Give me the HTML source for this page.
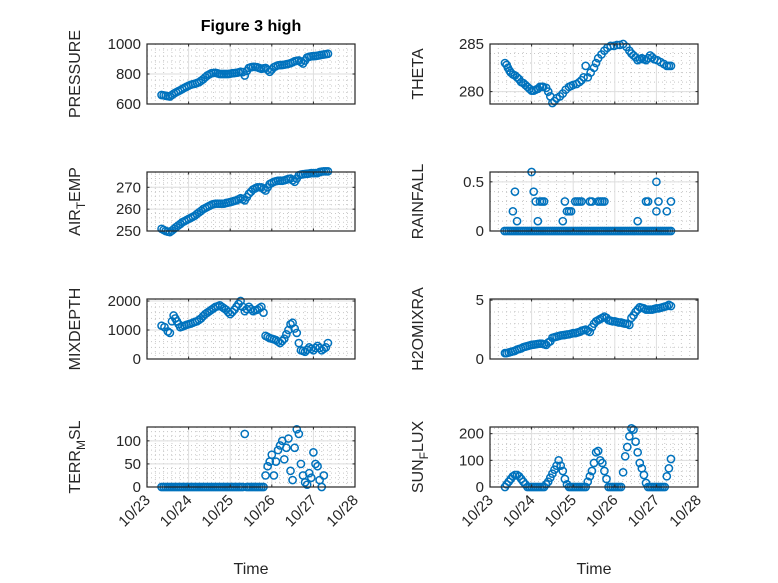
<!DOCTYPE html>
<html><head><meta charset="utf-8"><style>
html,body{margin:0;padding:0;background:#fff;}
svg{display:block;font-family:"Liberation Sans","DejaVu Sans",sans-serif;}
</style></head><body>
<svg id="fig" width="778" height="583" viewBox="0 0 778 583" xmlns="http://www.w3.org/2000/svg">
<rect width="778" height="583" fill="#fff"/>
<text x="251" y="31" text-anchor="middle" font-size="16" font-weight="bold" fill="#000">Figure 3 high</text>
</svg>
<script>
// ---- data (time in days after 10/23 00:00) ----
const xTickLabels = ["10/23","10/24","10/25","10/26","10/27","10/28"];

const presT = [0.35,0.4,0.45,0.5,0.55,0.6,0.65,0.7,0.75,0.8,0.85,0.9,0.95,1.0,1.05,1.1,1.15,1.2,1.25,1.3,1.35,1.4,1.45,1.5,1.55,1.6,1.65,1.7,1.75,1.8,1.85,1.9,1.95,2.0,2.05,2.1,2.15,2.2,2.25,2.3,2.35,2.4,2.45,2.5,2.55,2.6,2.65,2.7,2.75,2.8,2.85,2.9,2.95,3.0,3.05,3.1,3.15,3.2,3.25,3.3,3.35,3.4,3.45,3.5,3.55,3.6,3.65,3.7,3.75,3.8,3.85,3.9,3.95,4.0,4.05,4.1,4.15,4.2,4.25,4.3,4.35];
const presV = [660,658,655,652,650,660,670,678,685,692,700,708,715,722,728,732,735,740,745,755,765,778,790,798,805,807,808,804,800,800,800,800,800,802,805,806,808,811,815,812,790,820,840,845,848,847,845,840,835,838,840,828,815,830,845,852,858,859,860,862,865,868,872,878,885,888,890,880,870,890,910,915,918,919,920,922,925,928,930,932,935];

const airT = presT;
const airV = [251,250.5,250,249.7,249.5,250.2,251,251.8,252.5,253.2,254,254.5,255,255.5,256,256.5,257,257.8,258.5,259.2,260,260.5,261,261.5,262,262.3,262.5,262.5,262.5,262.5,262.5,262.8,263,263.2,263.5,263.8,264,264.5,265,264.5,264,265.5,267,268,269,269.5,270,270,270,269.2,268.5,270,271.5,272,272.5,272.8,273,273,273,273.2,273.5,273.8,274,273.2,272.5,274,275.5,275.8,276,276.1,276.2,276.3,276.5,276.5,276.5,276.5,277,277.2,277.3,277.3,277.3];

const mixT = [0.35,0.42,0.5,0.55,0.6,0.64,0.68,0.72,0.76,0.8,0.85,0.9,0.95,1.0,1.05,1.1,1.15,1.2,1.25,1.3,1.35,1.4,1.45,1.5,1.55,1.6,1.65,1.7,1.75,1.8,1.85,1.9,1.95,2.0,2.05,2.1,2.15,2.2,2.25,2.3,2.35,2.4,2.45,2.5,2.55,2.6,2.65,2.7,2.75,2.8,2.85,2.9,2.95,3.0,3.05,3.1,3.15,3.2,3.25,3.3,3.35,3.4,3.45,3.5,3.55,3.6,3.65,3.7,3.75,3.8,3.85,3.9,3.95,4.0,4.05,4.1,4.15,4.2,4.25,4.3,4.35];
const mixV = [1150,1100,950,900,1300,1500,1400,1300,1200,1100,1120,1150,1180,1200,1220,1250,1280,1300,1350,1400,1480,1550,1600,1650,1700,1750,1800,1820,1850,1800,1750,1700,1620,1550,1620,1700,1800,1900,2000,1800,1650,1720,1800,1720,1650,1680,1700,1750,1800,1600,800,760,720,700,680,650,600,550,620,700,850,1000,1200,1250,1050,900,550,300,280,250,320,400,350,300,380,450,380,300,350,400,550];

const terrT = [0.35,0.4,0.45,0.5,0.55,0.6,0.65,0.7,0.75,0.8,0.85,0.9,0.95,1.0,1.05,1.1,1.15,1.2,1.25,1.3,1.35,1.4,1.45,1.5,1.55,1.6,1.65,1.7,1.75,1.8,1.85,1.9,1.95,2.0,2.05,2.1,2.15,2.2,2.25,2.3,2.35,2.4,2.45,2.5,2.55,2.6,2.65,2.7,2.75,2.8,2.85,2.9,2.95,3.0,3.05,3.1,3.15,3.2,3.25,3.3,3.35,3.4,3.45,3.5,3.55,3.6,3.65,3.7,3.75,3.8,3.85,3.9,3.95,4.0,4.05,4.1,4.15,4.2,4.25];
const terrV = [0,0,0,0,0,0,0,0,0,0,0,0,0,0,0,0,0,0,0,0,0,0,0,0,0,0,0,0,0,0,0,0,0,0,0,0,0,0,0,0,115,0,0,0,0,0,0,0,0,0,25,45,55,70,25,55,80,90,100,60,85,105,35,15,85,125,115,50,25,10,5,30,20,75,50,45,15,0,25];

const thetaT = [0.36,0.4,0.43,0.47,0.5,0.55,0.6,0.65,0.7,0.75,0.8,0.85,0.9,0.95,1.0,1.05,1.1,1.15,1.2,1.25,1.28,1.35,1.4,1.45,1.5,1.55,1.6,1.68,1.75,1.82,1.9,1.95,2.0,2.08,2.15,2.2,2.25,2.3,2.35,2.42,2.5,2.55,2.6,2.68,2.75,2.82,2.9,2.98,3.05,3.12,3.2,3.28,3.35,3.4,3.45,3.5,3.55,3.6,3.65,3.7,3.75,3.8,3.85,3.9,3.95,4.02,4.1,4.18,4.25,4.3,4.35];
const thetaV = [283,282.8,282.5,282.2,282,281.8,281.7,281.5,281.3,281,280.9,280.7,280.5,280.3,280.1,280.1,280.2,280.3,280.5,280.5,280.5,280.4,280,279.5,278.8,279,279.3,279.5,279.8,280.2,280.5,280.6,280.7,280.8,281,281.2,281.5,282.7,281.5,282,282.5,283,283.5,283.9,284.3,284.6,284.8,284.8,284.9,284.9,285,284.7,284.3,284,283.8,283.6,283.3,283.4,283.5,283.4,283.3,283.5,283.8,283.6,283.4,283.3,283.1,282.9,282.7,282.7,282.7];

const rainT = [0.35,0.4,0.45,0.5,0.55,0.6,0.65,0.7,0.75,0.8,0.85,0.9,0.95,1.0,1.05,1.1,1.15,1.2,1.25,1.3,1.35,1.4,1.45,1.5,1.55,1.6,1.65,1.7,1.75,1.8,1.85,1.9,1.95,2.0,2.05,2.1,2.15,2.2,2.25,2.3,2.35,2.4,2.45,2.5,2.55,2.6,2.65,2.7,2.75,2.8,2.85,2.9,2.95,3.0,3.05,3.1,3.15,3.2,3.25,3.3,3.35,3.4,3.45,3.5,3.55,3.6,3.65,3.7,3.75,3.8,3.85,3.9,3.95,4.0,4.05,4.1,4.15,4.2,4.25,4.3,4.35,
  0.55,0.6,0.65,1.0,1.05,1.1,1.15,1.2,1.25,1.3,1.75,1.8,1.85,1.9,1.95,2.05,2.1,2.15,2.2,2.4,2.45,2.6,2.65,2.7,2.75,3.55,3.75,3.8,4.0,4.0,4.05,4.25,4.35];
const rainV = [0,0,0,0,0,0,0,0,0,0,0,0,0,0,0,0,0,0,0,0,0,0,0,0,0,0,0,0,0,0,0,0,0,0,0,0,0,0,0,0,0,0,0,0,0,0,0,0,0,0,0,0,0,0,0,0,0,0,0,0,0,0,0,0,0,0,0,0,0,0,0,0,0,0,0,0,0,0,0,0,0,
  0.2,0.4,0.1,0.6,0.4,0.3,0.1,0.3,0.3,0.3,0.1,0.3,0.2,0.2,0.2,0.3,0.3,0.3,0.3,0.3,0.3,0.3,0.3,0.3,0.3,0.1,0.3,0.3,0.5,0.2,0.3,0.2,0.3];

const h2oT = [0.36,0.4,0.45,0.5,0.55,0.6,0.65,0.7,0.75,0.8,0.85,0.9,0.95,1.0,1.05,1.1,1.15,1.2,1.25,1.3,1.35,1.4,1.45,1.5,1.55,1.6,1.65,1.7,1.75,1.8,1.85,1.9,1.95,2.0,2.05,2.1,2.15,2.2,2.25,2.3,2.35,2.4,2.45,2.5,2.55,2.6,2.65,2.7,2.75,2.8,2.85,2.9,2.95,3.0,3.05,3.1,3.15,3.2,3.25,3.3,3.35,3.4,3.45,3.5,3.55,3.6,3.65,3.7,3.75,3.8,3.85,3.9,3.95,4.0,4.05,4.1,4.15,4.2,4.25,4.3,4.35];
const h2oV = [0.5,0.5,0.55,0.6,0.65,0.7,0.8,0.85,0.9,1.0,1.05,1.1,1.15,1.2,1.22,1.25,1.28,1.3,1.3,1.25,1.2,1.4,1.5,1.8,1.85,1.9,1.95,2.0,2.02,2.05,2.08,2.1,2.15,2.2,2.2,2.25,2.3,2.4,2.45,2.5,2.4,2.3,2.7,3.0,3.2,3.3,3.4,3.5,3.6,3.5,3.3,3.25,3.2,3.2,3.15,3.1,3.1,3.05,3.0,3.0,2.9,3.5,3.7,4.0,4.2,4.4,4.35,4.3,4.2,4.2,4.2,4.2,4.25,4.3,4.3,4.35,4.4,4.45,4.5,4.6,4.5];

const sunT = [0.36,0.4,0.45,0.5,0.55,0.6,0.65,0.7,0.75,0.8,0.85,0.9,0.95,1.0,1.05,1.1,1.15,1.2,1.25,1.3,1.35,1.4,1.45,1.5,1.55,1.6,1.65,1.7,1.75,1.8,1.85,1.9,1.95,2.0,2.05,2.1,2.15,2.2,2.25,2.3,2.35,2.4,2.45,2.5,2.55,2.6,2.65,2.7,2.75,2.8,2.85,2.9,2.95,3.0,3.05,3.1,3.15,3.2,3.25,3.3,3.35,3.4,3.45,3.5,3.55,3.6,3.65,3.7,3.75,3.8,3.85,3.9,3.95,4.0,4.05,4.1,4.15,4.2,4.25,4.3,4.35];
const sunV = [0,10,20,30,40,45,45,40,30,20,10,0,0,0,0,0,0,0,0,0,10,20,35,50,65,80,100,80,60,30,10,0,0,0,0,0,0,0,0,0,20,40,60,90,130,135,100,90,60,30,0,0,0,0,0,0,0,55,115,150,190,220,215,170,130,90,70,45,15,0,0,0,0,0,0,0,0,0,40,70,105];

const panels = [
  {name:"pressure", x0:147,x1:355,y0:44,y1:104, ymin:600,ymax:1000, yticks:[600,800,1000], ylab:["PRESSURE"], t:presT, v:presV, xl:false},
  {name:"air-temp", x0:147,x1:355,y0:172,y1:231, ymin:250,ymax:277, yticks:[250,260,270], ylab:["AIR","T","EMP"], t:airT, v:airV, xl:false},
  {name:"mixdepth", x0:147,x1:355,y0:299,y1:359, ymin:0,ymax:2070, yticks:[0,1000,2000], ylab:["MIXDEPTH"], t:mixT, v:mixV, xl:false},
  {name:"terr-msl", x0:147,x1:355,y0:427,y1:487, ymin:0,ymax:130, yticks:[0,50,100], ylab:["TERR","M","SL"], t:terrT, v:terrV, xl:true},
  {name:"theta", x0:490,x1:698,y0:44,y1:104, ymin:278.7,ymax:285, yticks:[280,285], ylab:["THETA"], t:thetaT, v:thetaV, xl:false},
  {name:"rainfall", x0:490,x1:698,y0:172,y1:231, ymin:0,ymax:0.6, yticks:[0,0.5], ylab:["RAINFALL"], t:rainT, v:rainV, xl:false},
  {name:"h2omixra", x0:490,x1:698,y0:299,y1:359, ymin:0,ymax:5.1, yticks:[0,5], ylab:["H2OMIXRA"], t:h2oT, v:h2oV, xl:false},
  {name:"sun-flux", x0:490,x1:698,y0:427,y1:487, ymin:0,ymax:225, yticks:[0,100,200], ylab:["SUN","F","LUX"], t:sunT, v:sunV, xl:true}
];

const NS="http://www.w3.org/2000/svg";
const svg=document.getElementById('fig');
function mk(tag,attrs,parent){const e=document.createElementNS(NS,tag);for(const k in attrs)e.setAttribute(k,attrs[k]);(parent||svg).appendChild(e);return e;}

panels.forEach(p=>{
  const g=mk('g',{});
  
  
  const xs=t=>p.x0+(t/5)*(p.x1-p.x0);
  const ys=v=>p.y1-(v-p.ymin)/(p.ymax-p.ymin)*(p.y1-p.y0);
  mk('rect',{x:p.x0,y:p.y0,width:p.x1-p.x0,height:p.y1-p.y0,fill:'#fff'},g);
  for(let d=0;d<5;d+=0.2){ if(Math.abs(d-Math.round(d))<1e-6) continue;
    const x=xs(d); mk('line',{x1:x,x2:x,y1:p.y0,y2:p.y1,stroke:'#c8c8c8','stroke-width':1,'stroke-dasharray':'1 3'},g);}
  const step=p.yticks.length>1?(p.yticks[1]-p.yticks[0]):1;
  for(let v=p.yticks[0]-step;v<=p.ymax;v+=step/5){ if(v<p.ymin) continue;
    const y=ys(v); mk('line',{x1:p.x0,x2:p.x1,y1:y,y2:y,stroke:'#c8c8c8','stroke-width':1,'stroke-dasharray':'1 3'},g);}
  for(let d=1;d<5;d++){const x=xs(d);mk('line',{x1:x,x2:x,y1:p.y0,y2:p.y1,stroke:'#dedede','stroke-width':1},g);}
  p.yticks.forEach(v=>{const y=ys(v);mk('line',{x1:p.x0,x2:p.x1,y1:y,y2:y,stroke:'#dedede','stroke-width':1},g);});
  const dg=mk('g',{fill:'none',stroke:'#0072BD','stroke-width':1.5},g);
  
  
  p.t.forEach((t,i)=>{const c=mk('circle',{cx:xs(t),cy:ys(p.v[i]),r:3.6},dg);
    
    });
  mk('rect',{x:p.x0,y:p.y0,width:p.x1-p.x0,height:p.y1-p.y0,fill:'none',stroke:'#262626','stroke-width':1.2},g);
  for(let d=0;d<=5;d++){const x=xs(d);
    mk('line',{x1:x,x2:x,y1:p.y1,y2:p.y1-2.5,stroke:'#262626'},g);
    mk('line',{x1:x,x2:x,y1:p.y0,y2:p.y0+2.5,stroke:'#262626'},g);}
  p.yticks.forEach(v=>{const y=ys(v);
    mk('line',{x1:p.x0,x2:p.x0+2.5,y1:y,y2:y,stroke:'#262626'},g);
    mk('line',{x1:p.x1,x2:p.x1-2.5,y1:y,y2:y,stroke:'#262626'},g);
    const tx=mk('text',{x:p.x0-6,y:y+5,'text-anchor':'end','font-size':15,fill:'#262626'},g);
    tx.textContent=String(v);
    
    });
  const cy=(p.y0+p.y1)/2, lx=p.x0-67;
  const yl=mk('text',{x:lx,y:cy,'text-anchor':'middle','font-size':16,fill:'#262626',transform:`rotate(-90 ${lx} ${cy})`},g);
  
  
  if(p.ylab.length===1){yl.textContent=p.ylab[0];}
  else{
    const a=mk('tspan',{},yl);a.textContent=p.ylab[0];
    const b=mk('tspan',{dy:5,'font-size':12},yl);b.textContent=p.ylab[1];
    const c=mk('tspan',{dy:-5},yl);c.textContent=p.ylab[2];
  }
  if(p.xl){
    xTickLabels.forEach((s,d)=>{const x=xs(d),y=p.y1+10;
      const tx=mk('text',{x:x+4,y:y+4,'text-anchor':'end','font-size':15,fill:'#262626',transform:`rotate(-45 ${x+4} ${y+4})`},g);
      tx.textContent=s;
      
      });
    const xt=mk('text',{x:(p.x0+p.x1)/2,y:574,'text-anchor':'middle','font-size':16,fill:'#262626'},g);
    xt.textContent='Time';
    
    
  }
});
</script>
</body></html>
